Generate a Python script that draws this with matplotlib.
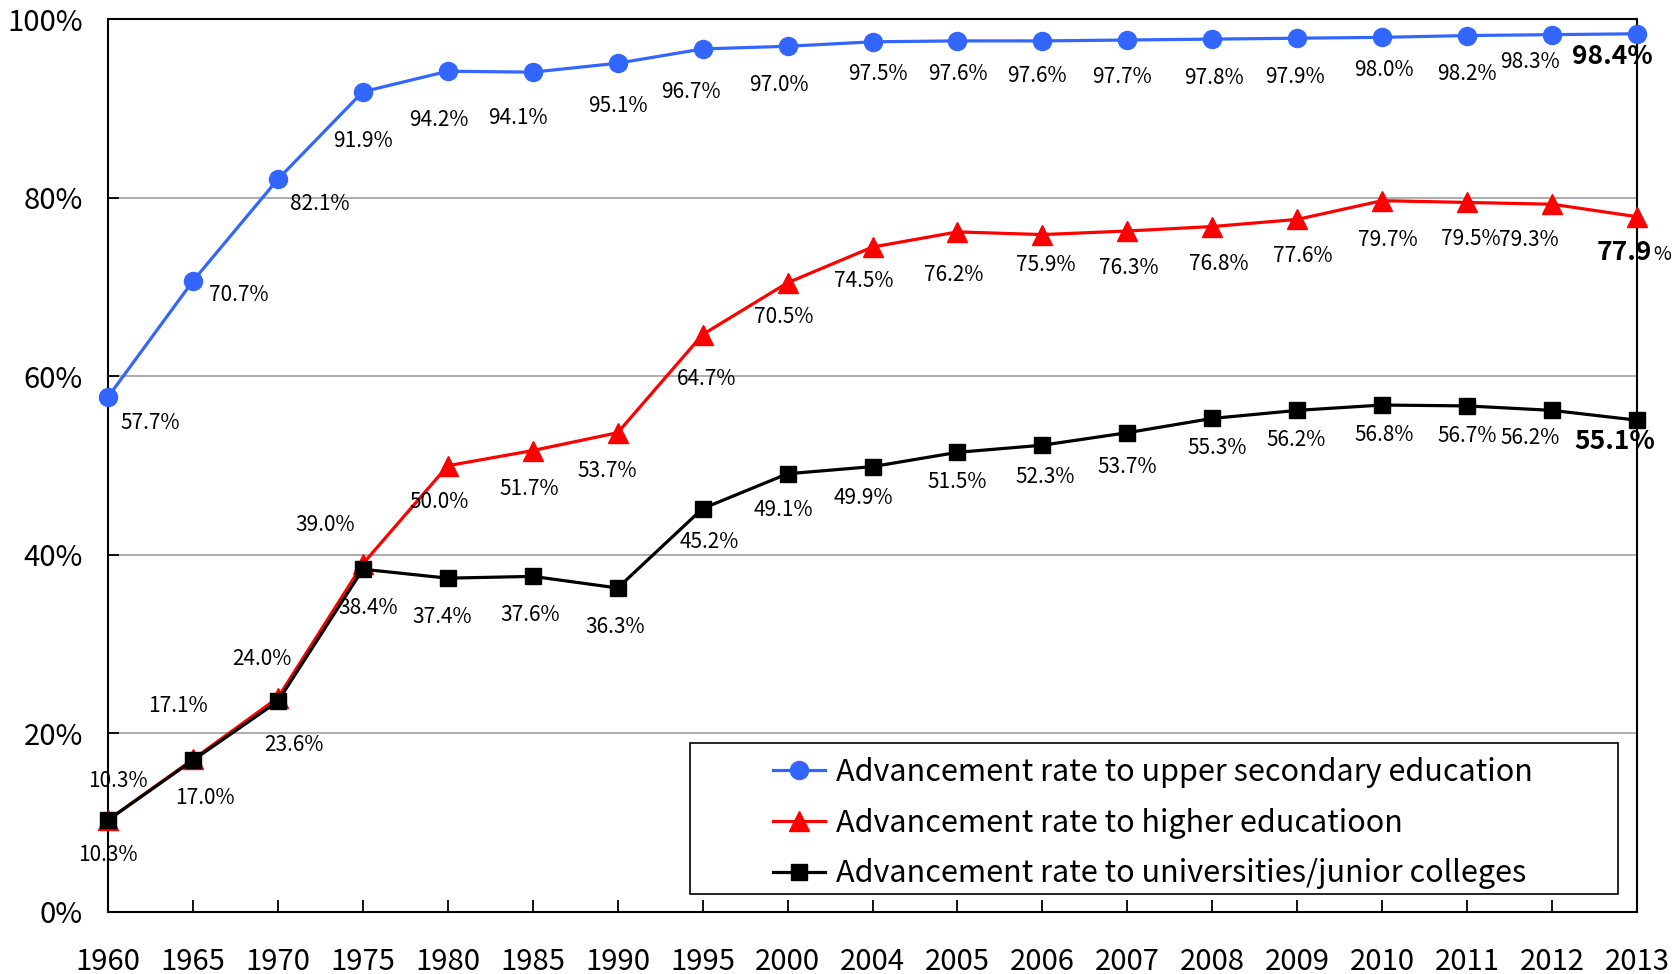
import numpy as np
import matplotlib.pyplot as plt
from matplotlib.patches import Rectangle

plt.rcParams['font.family'] = ['Noto Sans CJK JP', 'DejaVu Sans']

years = ['1960', '1965', '1970', '1975', '1980', '1985', '1990', '1995', '2000',
         '2004', '2005', '2006', '2007', '2008', '2009', '2010', '2011', '2012', '2013']
upper_secondary = [57.7, 70.7, 82.1, 91.9, 94.2, 94.1, 95.1, 96.7, 97.0,
                   97.5, 97.6, 97.6, 97.7, 97.8, 97.9, 98.0, 98.2, 98.3, 98.4]
higher_education = [10.3, 17.1, 24.0, 39.0, 50.0, 51.7, 53.7, 64.7, 70.5,
                    74.5, 76.2, 75.9, 76.3, 76.8, 77.6, 79.7, 79.5, 79.3, 77.9]
universities = [10.3, 17.0, 23.6, 38.4, 37.4, 37.6, 36.3, 45.2, 49.1,
                49.9, 51.5, 52.3, 53.7, 55.3, 56.2, 56.8, 56.7, 56.2, 55.1]

series_names = ['Advancement rate to upper secondary education',
                'Advancement rate to higher educatioon',
                'Advancement rate to universities/junior colleges']

# label offsets from each point, in pixels (dx right, dy down)
off_upper = [(42, 26), (46, 14), (42, 25), (0, 49), (-9, 49), (-15, 46), (0, 43),
             (-12, 43), (-9, 39), (5, 32), (0, 33), (-5, 35), (-5, 37), (2, 39),
             (-2, 39), (2, 33), (0, 38), (-22, 27), (-25, 23)]
off_higher = [(10, -39), (-15, -53), (-16, -39), (-38, -39), (-9, 36), (-3, 38),
              (-10, 38), (4, 44), (-4, 34), (-9, 34), (-4, 43), (3, 30), (1, 37),
              (6, 37), (6, 37), (6, 39), (4, 37), (-23, 36), None]
off_univ = [(0, 35), (12, 38), (16, 44), (5, 39), (-6, 39), (-3, 39), (-3, 39),
            (7, 33), (-4, 36), (-9, 31), (0, 30), (3, 32), (0, 34), (5, 30),
            (-1, 30), (2, 30), (0, 30), (-22, 28), (-22, 21)]

blue = '#3366ff'
red = '#ff0000'

fig = plt.figure(figsize=(16.72, 9.74), dpi=100)
ax = fig.add_axes([0.0646, 0.0637, 0.9145, 0.9163])

x = np.arange(len(years))
ax.plot(x, upper_secondary, color=blue, lw=2.3, marker='o', ms=13,
        mec=blue, clip_on=False, zorder=4, label=series_names[0])
ax.plot(x, higher_education, color=red, lw=2.3, marker='^', ms=14,
        mec=red, clip_on=False, zorder=3, label=series_names[1])
ax.plot(x, universities, color='black', lw=2.3, marker='s', ms=11,
        mec='black', clip_on=False, zorder=5, label=series_names[2])


def put_labels(values, offsets):
    last = len(values) - 1
    for i, (v, off) in enumerate(zip(values, offsets)):
        if off is None:
            continue
        bold = i == last
        ax.annotate(f'{v:.1f}%', (x[i], v), xytext=(off[0], -off[1]),
                    textcoords='offset pixels', ha='center', va='center',
                    fontsize=19 if bold else 15,
                    fontweight='bold' if bold else 'normal',
                    annotation_clip=False, zorder=6)


put_labels(upper_secondary, off_upper)
put_labels(higher_education, off_higher)
put_labels(universities, off_univ)

# last value of the higher education series: bold number, plain percent sign
v = higher_education[-1]
ax.annotate(f'{v:.1f}', (x[-1], v), xytext=(15, -43), textcoords='offset pixels',
            ha='right', va='baseline', fontsize=19, fontweight='bold',
            annotation_clip=False, zorder=6)
ax.annotate('%', (x[-1], v), xytext=(16, -43), textcoords='offset pixels',
            ha='left', va='baseline', fontsize=14, annotation_clip=False, zorder=6)

ax.set_xlim(0, len(years) - 1)
ax.set_ylim(0, 100)
ax.set_xticks(x)
ax.set_xticklabels(years)
ax.set_yticks([0, 20, 40, 60, 80, 100])
ax.set_yticklabels([f'{t}%' for t in [0, 20, 40, 60, 80, 100]])
ax.tick_params(axis='y', direction='in', length=8, width=1.3, pad=18, labelsize=21)
ax.tick_params(axis='x', direction='in', length=9, width=1.3, pad=25, labelsize=21)
ax.yaxis.grid(True, color='#a0a0a0', lw=1.2)
ax.set_axisbelow(True)
for s in ax.spines.values():
    s.set_linewidth(1.5)
    s.set_color('black')

# legend box
ax.add_patch(Rectangle((0.3806, 0.0202), 0.607, 0.1692, transform=ax.transAxes,
                       fill=True, facecolor='white', edgecolor='black', lw=1.2,
                       zorder=7, clip_on=False))
leg = ax.legend(loc='center left', bbox_to_anchor=(0.4349, 0.0995), frameon=False,
                fontsize=22, borderpad=0, handlelength=1.7, handletextpad=0.36,
                labelspacing=0.64, borderaxespad=0)
leg.set_zorder(8)

fig.savefig('out.png', dpi=100)
